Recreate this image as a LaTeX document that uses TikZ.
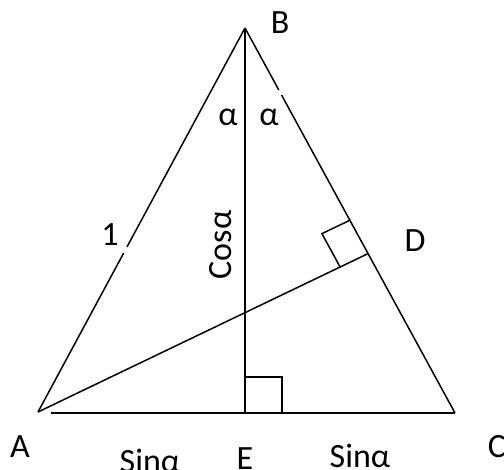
\documentclass[tikz,border=0pt]{standalone}
\usepackage{fontspec}
\setmainfont{Carlito}
\usetikzlibrary{calc, positioning}
\tikzset{
    edge/.style={line width=1.5pt, black},
    rightmark/.style={line width=1.5pt, black},
    ptlabel/.style={font=\fontsize{34}{38}\selectfont, inner sep=0pt},
    sidelabel/.style={font=\fontsize{34}{38}\selectfont, inner sep=0pt},
}

\begin{document}
\begin{tikzpicture}[x=1pt, y=1pt]
\useasboundingbox (0,0) rectangle (504,470);

% vertices
\coordinate (A) at (38,58);
\coordinate (A0) at (51,57);
\coordinate (B) at (245,442);
\coordinate (C) at (455,57);
\coordinate (E) at (245,57);
\coordinate (D) at ($(B)!0.586!(C)$);

% gaps left in the sides
\coordinate (g1) at ($(A)!0.414!(B)$);
\coordinate (g2) at ($(A)!0.43!(B)$);
\coordinate (g3) at ($(B)!0.161!(C)$);
\coordinate (g4) at ($(B)!0.174!(C)$);

% triangle and the two cevians
\draw[edge] (A) -- (g1);
\draw[edge] (g2) -- (B);
\draw[edge] (B) -- (g3);
\draw[edge] (g4) -- (C);
\draw[edge] (A0) -- (C);
\draw[edge] (B) -- (E);
\draw[edge] (A) -- (D);

% right angle at D
\coordinate (d1) at ($(D)!31pt!(A)$);
\coordinate (d2) at ($(D)!38pt!(B)$);
\draw[rightmark] (d1) -- ($(d1)+(d2)-(D)$) -- (d2);

% right angle at E
\draw[rightmark] ($(E)+(0,36)$) -- ($(E)+(37,36)$) -- ($(E)+(37,0)$);

% labels
\node[ptlabel] (lB) at (280,447) {B};
\node[ptlabel] (lA) at (20,23) {A};
\node[ptlabel] (lC) at (497,23) {C};
\node[ptlabel] (lE) at (245,11) {E};
\node[ptlabel] (lD) at (415,229) {D};
\node[sidelabel] (a1) at (228,353) {α};
\node[sidelabel] (a2) at (269,353) {α};
\node[sidelabel] (one) at (110,235) {1};
\node[sidelabel, rotate=90] (cos) at (221,225) {Cosα};
\node[sidelabel] (sin1) at (150,9) {Sinα};
\node[sidelabel] (sin2) at (360,14) {Sinα};

\end{tikzpicture}
\end{document}
